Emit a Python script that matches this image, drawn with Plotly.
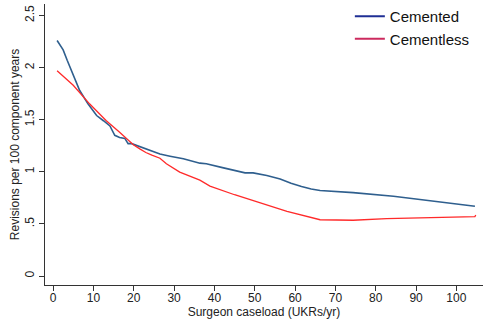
import plotly.graph_objects as go

# Data
cem_x = [1, 1.7, 2.5, 3.5, 5, 6.6, 8.7, 10.8, 12.5, 14.1, 15.3, 16.5, 17.8, 18.6, 19.5, 21.5, 24,
         26.5, 29, 32.3, 36.4, 38, 42, 46.3, 47.6, 49.6, 53, 56.3, 59, 61.6, 64, 66.2, 74.4, 84.4,
         94.3, 104.6]
cem_y = [2.26, 2.22, 2.17, 2.07, 1.93, 1.78, 1.65, 1.54, 1.49, 1.44, 1.35, 1.33, 1.32, 1.27, 1.27,
         1.24, 1.21, 1.17, 1.15, 1.125, 1.083, 1.077, 1.04, 1.0, 0.99, 0.99, 0.965, 0.93, 0.89,
         0.86, 0.835, 0.82, 0.80, 0.765, 0.717, 0.67]

cless_x = [1, 5, 9.1, 13.2, 16.5, 19.9, 21.5, 23, 24.5, 25.7, 26.5, 28.1, 31.4, 36.4, 38.9, 45,
           51.3, 58, 66.2, 74.4, 82.7, 104.6, 104.8]
cless_y = [1.97, 1.83, 1.65, 1.49, 1.38, 1.26, 1.22, 1.185, 1.16, 1.14, 1.13, 1.077, 0.997, 0.92,
           0.863, 0.78, 0.70, 0.62, 0.54, 0.535, 0.55, 0.57, 0.585]

x_ticks = [0, 10, 20, 30, 40, 50, 60, 70, 80, 90, 100]
y_ticks = [0, 0.5, 1, 1.5, 2, 2.5]
y_ticktext = ["0", ".5", "1", "1.5", "2", "2.5"]

FONT = "Liberation Sans, Arial"

fig = go.Figure()
fig.add_trace(go.Scatter(x=cem_x, y=cem_y, mode="lines", line=dict(color="#2f5f8e", width=1.6),
                         showlegend=False, hoverinfo="skip"))
fig.add_trace(go.Scatter(x=cless_x, y=cless_y, mode="lines", line=dict(color="#ff2a2a", width=1.3),
                         showlegend=False, hoverinfo="skip"))
# legend entries
fig.add_trace(go.Scatter(x=[None], y=[None], mode="lines", name="Cemented",
                         line=dict(color="#1f2f95", width=2)))
fig.add_trace(go.Scatter(x=[None], y=[None], mode="lines", name="Cementless",
                         line=dict(color="#cc2a5e", width=2)))

axis_common = dict(showline=True, linecolor="#333333", linewidth=1.3, ticks="outside",
                   ticklen=5, tickcolor="#333333", showgrid=False, zeroline=False,
                   automargin=False,
                   tickfont=dict(family=FONT, size=12, color="#222222"))

fig.update_layout(
    width=483, height=327, autosize=False,
    margin=dict(l=45, r=0, t=3, b=42),
    paper_bgcolor="white", plot_bgcolor="white",
    xaxis=dict(range=[-2, 106.6], tickvals=x_ticks, ticklabelstandoff=-4,
               title=dict(text="Surgeon caseload (UKRs/yr)", standoff=0,
                          font=dict(family=FONT, size=12, color="#222222")),
               **axis_common),
    yaxis=dict(range=[-0.086, 2.61], tickvals=y_ticks, ticktext=y_ticktext, tickangle=-90,
               title=dict(text="Revisions per 100 component years", standoff=0,
                          font=dict(family=FONT, size=12, color="#222222")),
               **axis_common),
    legend=dict(x=0.696, y=1.015, xanchor="left", yanchor="top", bgcolor="rgba(0,0,0,0)",
                font=dict(family=FONT, size=15, color="#111111"),
                tracegroupgap=0, itemwidth=30),
)

post = ("document.documentElement.style.margin='0';document.body.style.margin='0';"
        "document.body.style.overflow='hidden';"
        "Plotly.relayout('{plot_id}', {width: 483, height: 327});")

fig.write_html("out.html", post_script=post,
               config={"responsive": False, "displayModeBar": False})
